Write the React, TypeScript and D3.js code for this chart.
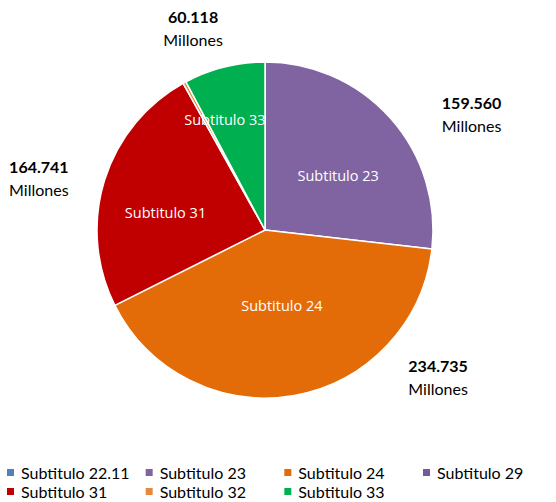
import React from 'react';
import * as d3 from 'd3';

// categories in legend / pie order (clockwise from 12 o'clock)
const categories = [
  'Subtitulo 22.11',
  'Subtitulo 23',
  'Subtitulo 24',
  'Subtitulo 29',
  'Subtitulo 31',
  'Subtitulo 32',
  'Subtitulo 33',
];

// share of the pie (%)
const shares = [0, 26.8, 40.8, 0, 24.3, 0.3, 7.8];

// amounts written next to the big slices
const calloutCategories = ['Subtitulo 33', 'Subtitulo 23', 'Subtitulo 24', 'Subtitulo 31'];
const calloutAmounts = ['60.118', '159.560', '234.735', '164.741'];
const calloutUnit = 'Millones';

// slices that get a name inside
const insideLabels = ['Subtitulo 23', 'Subtitulo 24', 'Subtitulo 31', 'Subtitulo 33'];

const colors = ['#4F81BD', '#8064A2', '#E36C09', '#775A99', '#C00000', '#E5893E', '#00B050'];

const W = 556;
const H = 502;
const cx = 265;
const cy = 230;
const R = 168;

// where the amount boxes sit: nudge (deg) from slice middle, distance from centre
const calloutLayout: Record<string, { nudge: number; dist: number }> = {
  'Subtitulo 33': { nudge: -5.6, dist: 214 },
  'Subtitulo 23': { nudge: 12.4, dist: 237 },
  'Subtitulo 24': { nudge: -39.6, dist: 227 },
  'Subtitulo 31': { nudge: -4.2, dist: 232 },
};

// names inside slices: nudge (deg) from slice middle, distance from centre
const insideLayout: Record<string, { nudge: number; dist: number }> = {
  'Subtitulo 23': { nudge: 5.3, dist: 91 },
  'Subtitulo 24': { nudge: -2.4, dist: 78 },
  'Subtitulo 31': { nudge: -7.2, dist: 101 },
  'Subtitulo 33': { nudge: -6, dist: 117 },
};

type Row = { name: string; value: number };

export default function App() {
  const rows: Row[] = categories.map((c, i) => ({ name: c, value: shares[i] }));

  const color = d3.scaleOrdinal<string, string>().domain(categories).range(colors);

  const pie = d3
    .pie<Row>()
    .value(d => d.value)
    .sort(null)
    .startAngle(0)
    .endAngle(2 * Math.PI);

  const arcs = pie(rows);
  const arc = d3.arc<d3.PieArcDatum<Row>>().innerRadius(0).outerRadius(R);

  const polar = (angle: number, r: number) => [r * Math.sin(angle), -r * Math.cos(angle)];
  const midAngle = (a: d3.PieArcDatum<Row>) => (a.startAngle + a.endAngle) / 2;
  const rad = (deg: number) => (deg * Math.PI) / 180;

  const legendCol = d3.scalePoint<number>().domain([0, 1, 2, 3]).range([7, 423]);
  const legendRow = d3.scalePoint<number>().domain([0, 1]).range([479, 498]);

  return (
    <svg width={W} height={H} style={{ position: 'fixed', left: 0, top: 0, background: '#fff' }}>
      <g transform={`translate(${cx},${cy})`}>
        {arcs.map(a =>
          a.value > 0 ? (
            <path
              key={a.data.name}
              d={arc(a) || ''}
              fill={color(a.data.name)}
              stroke="#fff"
              strokeWidth={1.5}
              strokeLinejoin="round"
            />
          ) : null
        )}
        {arcs
          .filter(a => insideLabels.includes(a.data.name))
          .map(a => {
            const lay = insideLayout[a.data.name];
            const [x, y] = polar(midAngle(a) + rad(lay.nudge), lay.dist);
            return (
              <text
                key={a.data.name}
                x={x}
                y={y}
                dy="0.35em"
                textAnchor="middle"
                fill="#fff"
                fontFamily="Open Sans, sans-serif"
                fontSize={14.5}
              >
                {a.data.name}
              </text>
            );
          })}
        {calloutCategories.map((name, i) => {
          const a = arcs.find(d => d.data.name === name)!;
          const lay = calloutLayout[name];
          const [x, y] = polar(midAngle(a) + rad(lay.nudge), lay.dist);
          return (
            <g key={name} transform={`translate(${x},${y})`} fontFamily="Lato, sans-serif" fontSize={16} fill="#000" textAnchor="middle">
              <text y={-5} fontWeight="bold">{calloutAmounts[i]}</text>
              <text y={18}>{calloutUnit}</text>
            </g>
          );
        })}
      </g>
      <g fontFamily="Lato, sans-serif" fontSize={16} fill="#000">
        {categories.map((name, i) => {
          const x = legendCol(i % 4)!;
          const y = legendRow(Math.floor(i / 4))!;
          return (
            <g key={name} transform={`translate(${x},${y})`}>
              <rect x={0} y={-10} width={7} height={7} fill={color(name)} />
              <text x={14} y={0}>{name}</text>
            </g>
          );
        })}
      </g>
    </svg>
  );
}
